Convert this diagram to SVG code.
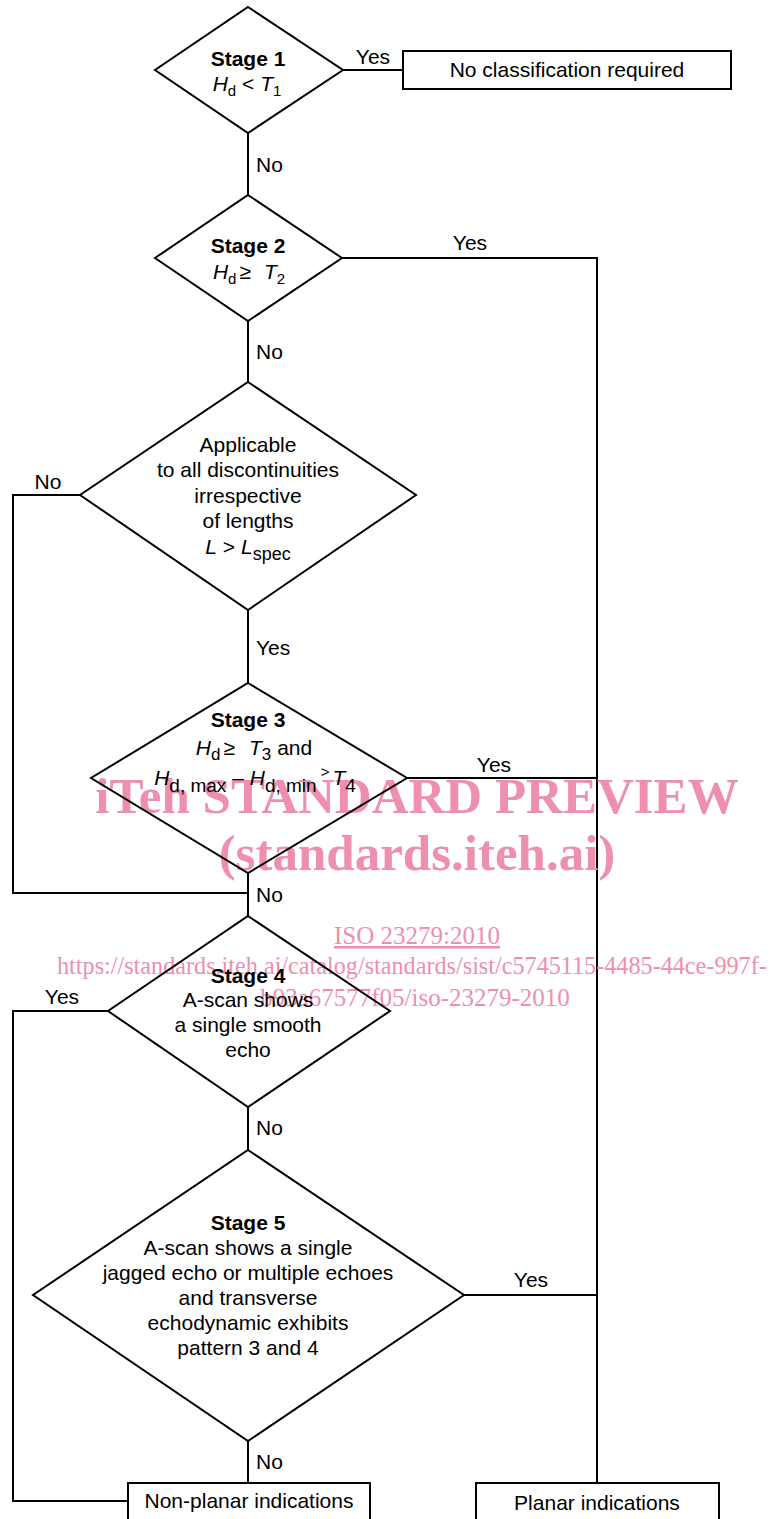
<svg xmlns="http://www.w3.org/2000/svg" width="776" height="1519" viewBox="0 0 776 1519">
<style>
.shape{fill:#fff;stroke:#000;stroke-width:2}
.conn{fill:none;stroke:#000;stroke-width:2}
text{font-family:"Liberation Sans",Arial,sans-serif;font-size:21px;fill:#000}
.c{text-anchor:middle}
.b{font-weight:bold}
.i{font-style:italic}
.wm{font-family:"Liberation Serif","Times New Roman",serif;fill:#EE8FAD;text-anchor:middle}
.wmb{font-weight:bold;font-size:51px}
.wmn{font-size:25px}
.wmurl{font-size:24.2px;text-anchor:start}
</style>
<rect width="776" height="1519" fill="#fff"/>
<g id="connectors">
<path class="conn" d="M343,70 H403"/>
<path class="conn" d="M248,133 V195"/>
<path class="conn" d="M342,258 H597 V1483"/>
<path class="conn" d="M248,321 V382"/>
<path class="conn" d="M80,495 H13 V893 H248"/>
<path class="conn" d="M248,610 V683"/>
<path class="conn" d="M407,778 H597"/>
<path class="conn" d="M248,873 V916"/>
<path class="conn" d="M108,1011 H13 V1501 H128"/>
<path class="conn" d="M248,1107 V1150"/>
<path class="conn" d="M464,1295 H597"/>
<path class="conn" d="M248,1441 V1483"/>
</g>
<g id="labels">
<text class="c" x="373" y="64">Yes</text>
<text x="256" y="172">No</text>
<text class="c" x="470" y="250">Yes</text>
<text x="256" y="359">No</text>
<text class="c" x="48" y="489">No</text>
<text x="256" y="655">Yes</text>
<text class="c" x="494" y="772">Yes</text>
<text x="256" y="902">No</text>
<text class="c" x="62" y="1004">Yes</text>
<text x="256" y="1135">No</text>
<text class="c" x="531" y="1287">Yes</text>
<text x="256" y="1469">No</text>
</g>
<g id="stage1">
<polygon class="shape" points="248,7 343,70 248,133 155,70"/>
<text class="c b" x="248" y="66">Stage 1</text>
<text class="c" x="247" y="91"><tspan class="i">H</tspan><tspan font-size="15" dy="5">d</tspan><tspan dy="-5"> &lt; </tspan><tspan class="i">T</tspan><tspan font-size="15" dy="5">1</tspan></text>
</g>
<g id="no-classification">
<rect class="shape" x="403" y="51" width="328" height="38"/>
<text class="c" x="567" y="77">No classification required</text>
</g>
<g id="stage2">
<polygon class="shape" points="248,195 342,258 248,321 155,258"/>
<text class="c b" x="248" y="253">Stage 2</text>
<text class="c" x="249" y="279"><tspan class="i">H</tspan><tspan font-size="15" dy="5">d</tspan><tspan dy="-5" dx="3">≥</tspan><tspan class="i" dx="13">T</tspan><tspan font-size="15" dy="5">2</tspan></text>
</g>
<g id="applicable">
<polygon class="shape" points="248,382 416,495 248,610 80,495"/>
<text class="c" x="248" y="452">Applicable</text>
<text class="c" x="248" y="477">to all discontinuities</text>
<text class="c" x="248" y="503">irrespective</text>
<text class="c" x="248" y="528">of lengths</text>
<text class="c" x="248" y="554"><tspan class="i">L</tspan> &gt; <tspan class="i">L</tspan><tspan dy="6" font-size="18">spec</tspan></text>
</g>
<g id="watermark">
<text class="wm wmb" x="417" y="813">iTeh STANDARD PREVIEW</text>
<text class="wm wmb" x="417" y="870">(standards.iteh.ai)</text>
<text class="wm wmn" x="417" y="944" text-decoration="underline">ISO 23279:2010</text>
<text class="wm wmurl" x="57" y="974">https://standards.iteh.ai/catalog/standards/sist/c5745115-4485-44ce-997f-</text>
<text class="wm wmn" x="415" y="1006">b93a67577f05/iso-23279-2010</text>
</g>
<g id="stage3">
<polygon class="shape" points="248,683 407,778 248,873 91,778" fill-opacity="0"/>
<text class="c b" x="248" y="727">Stage 3</text>
<text class="c" x="254" y="755" font-size="24"><tspan class="i">H</tspan><tspan font-size="17" dy="5">d</tspan><tspan dy="-5" dx="3">≥</tspan><tspan class="i" dx="14">T</tspan><tspan font-size="17" dy="5">3</tspan><tspan dy="-5"> and</tspan></text>
<text class="c" x="255" y="785" font-size="31"><tspan class="i">H</tspan><tspan font-size="19" dy="7">d, max</tspan><tspan dy="-7"> – </tspan><tspan class="i">H</tspan><tspan font-size="19" dy="7">d, min</tspan><tspan font-size="15" dy="-15" dx="4">&gt;</tspan><tspan dy="8" class="i" dx="3">T</tspan><tspan font-size="19" dy="7">4</tspan></text>
</g>
<g id="stage4">
<polygon class="shape" points="248,916 390,1011 248,1107 108,1011" fill-opacity="0"/>
<text class="c b" x="248" y="983">Stage 4</text>
<text class="c" x="248" y="1007">A-scan shows</text>
<text class="c" x="248" y="1032">a single smooth</text>
<text class="c" x="248" y="1057">echo</text>
</g>
<g id="stage5">
<polygon class="shape" points="248,1150 464,1295 248,1441 33,1295"/>
<text class="c b" x="248" y="1230">Stage 5</text>
<text class="c" x="248" y="1255">A-scan shows a single</text>
<text class="c" x="248" y="1280">jagged echo or multiple echoes</text>
<text class="c" x="248" y="1305">and transverse</text>
<text class="c" x="248" y="1330">echodynamic exhibits</text>
<text class="c" x="248" y="1355">pattern 3 and 4</text>
</g>
<g id="non-planar">
<rect class="shape" x="128" y="1483" width="242" height="44"/>
<text class="c" x="249" y="1508">Non-planar indications</text>
</g>
<g id="planar">
<rect class="shape" x="476" y="1483" width="243" height="44"/>
<text class="c" x="597" y="1510">Planar indications</text>
</g>
</svg>
